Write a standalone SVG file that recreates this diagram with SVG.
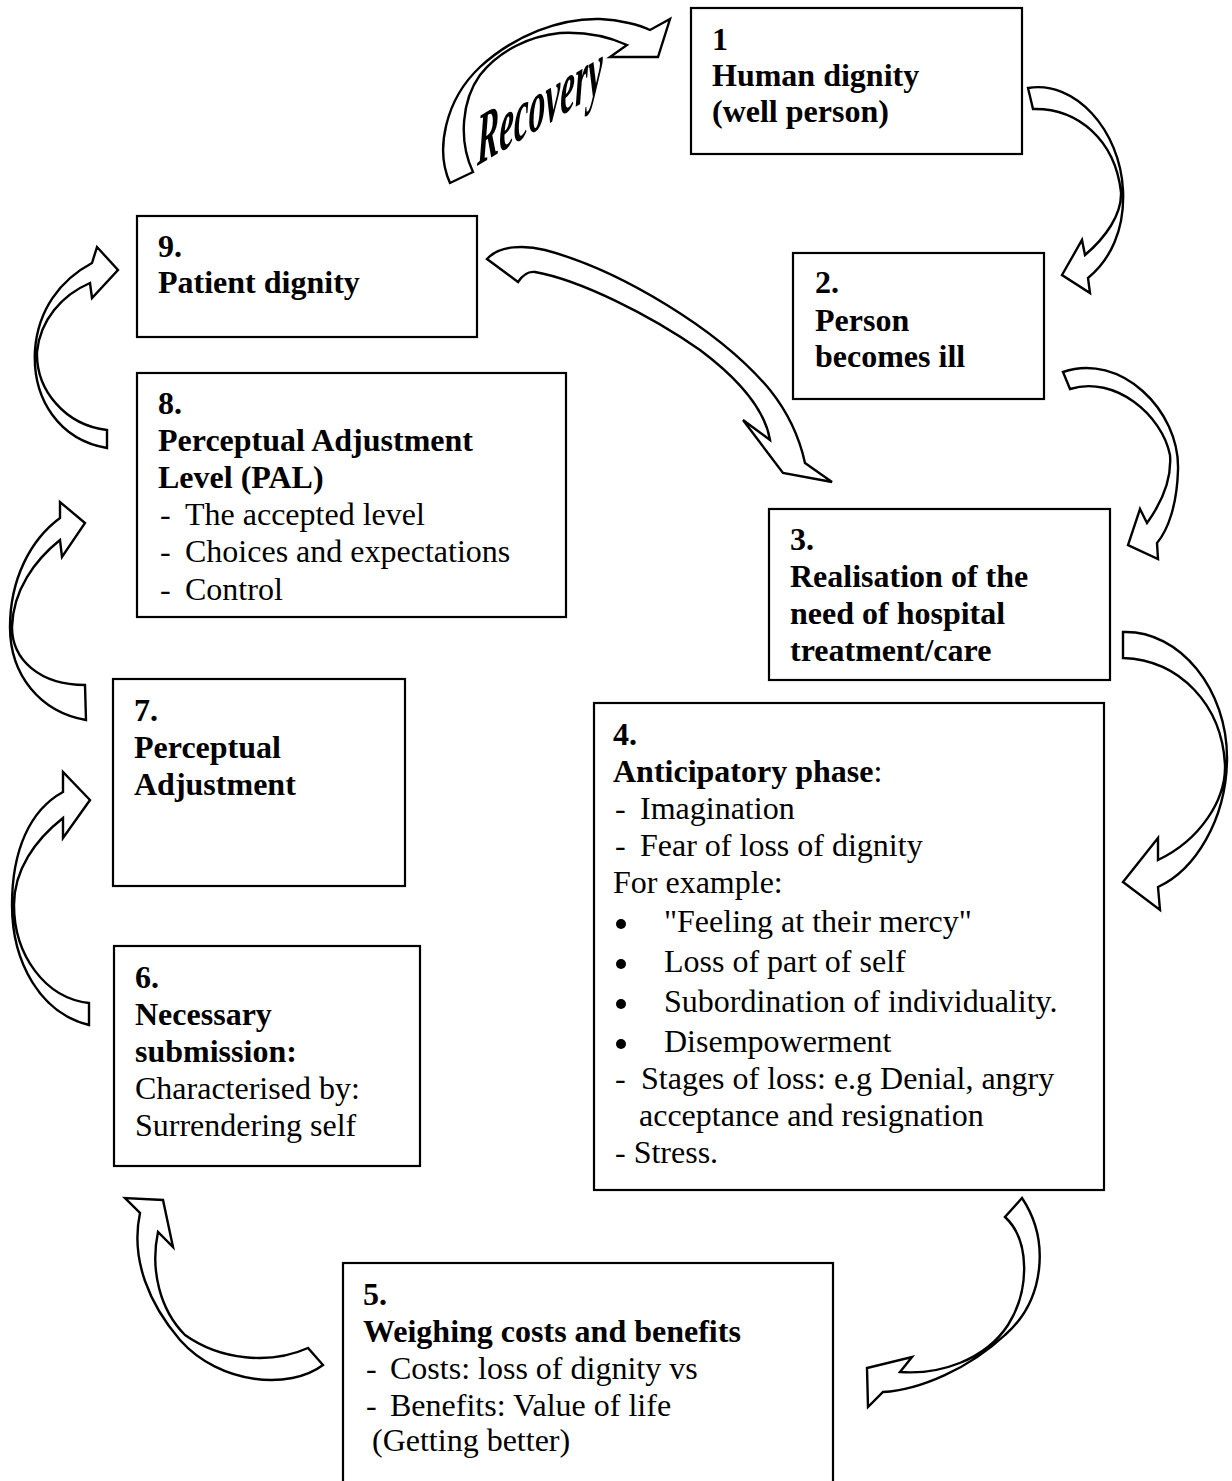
<svg xmlns="http://www.w3.org/2000/svg" width="1232" height="1481" viewBox="0 0 1232 1481">
<style>
.box{fill:#fff;stroke:#000;stroke-width:2.2}
.arr{fill:#fff;stroke:#000;stroke-width:2.4;stroke-linejoin:miter}
text{font-family:"Liberation Serif","Times New Roman",serif;font-size:32px;fill:#000}
.b{font-weight:bold}
.rec{font-family:"Liberation Serif","Times New Roman",serif;font-weight:bold;font-style:italic;font-size:74px}
</style>
<rect width="1232" height="1481" fill="#fff"/>
<g id="connectors">
<g id="recovery">
<path class="arr" d="M 450,183 C 435,150 445,100 480,67 C 515,35 560,18 600,19 C 620,20 640,25 650,30 L 670,19 L 658,57 L 610,57 L 627,45 C 605,35 580,32 560,33 C 530,36 500,50 480,75 C 462,100 458,140 473,172 Z"/>
<text class="rec" transform="translate(477,166) skewY(-31) scale(0.45,1)">Recovery</text>
</g>
<path id="a1-2" class="arr" d="M 1028,88 C 1075,80 1120,130 1123,190 C 1125,230 1110,260 1088,278 L 1090,293 L 1062,275 L 1082,240 L 1085,255 C 1105,238 1122,215 1121,192 C 1115,140 1078,108 1033,109 Z"/>
<path id="a2-3" class="arr" d="M 1063,372 C 1120,352 1180,410 1178,470 C 1177,505 1168,530 1157,543 L 1158,559 L 1128,545 L 1140,509 L 1147,523 C 1160,505 1172,480 1170,455 C 1162,415 1115,375 1070,389 Z"/>
<path id="a3-4" class="arr" d="M 1123,632 C 1180,630 1228,690 1227,760 C 1226,820 1195,870 1158,887 L 1160,910 L 1123,882 L 1158,838 L 1158,860 C 1200,840 1226,800 1225,765 C 1222,705 1180,660 1123,658 Z"/>
<path id="a4-5" class="arr" d="M 1022,1198 C 1050,1240 1045,1300 1005,1335 C 970,1368 920,1390 883,1392 L 868,1407 L 867,1368 L 912,1357 L 900,1372 C 940,1375 985,1360 1008,1325 C 1030,1290 1030,1240 1005,1217 Z"/>
<path id="a5-6" class="arr" d="M 323,1365 C 290,1390 220,1385 180,1340 C 150,1305 130,1260 140,1213 L 125,1198 L 163,1200 L 173,1247 L 158,1232 C 150,1270 160,1310 185,1335 C 220,1360 270,1365 308,1348 Z"/>
<path id="a6-7" class="arr" d="M 89,1025 C 40,1013 12,962 12,905 C 12,850 30,810 63,792 L 63,772 L 90,800 L 63,838 L 63,818 C 35,840 14,870 14,905 C 14,955 45,998 89,1003 Z"/>
<path id="a7-8" class="arr" d="M 86,720 C 40,712 10,675 10,627 C 10,580 30,540 60,518 L 60,502 L 85,523 L 62,557 L 60,540 C 35,560 13,590 12,627 C 12,660 40,685 85,685 Z"/>
<path id="a8-9" class="arr" d="M 107,448 C 60,440 32,400 35,350 C 38,310 60,280 92,263 L 97,247 L 118,270 L 92,298 L 90,283 C 62,295 40,320 37,352 C 36,390 65,425 107,430 Z"/>
<path id="a9-3" class="arr" d="M 487,259 C 500,245 525,245 545,250 C 620,270 720,330 770,390 C 790,415 800,440 805,463 L 832,482 L 783,473 L 743,420 L 770,440 C 765,410 740,380 700,350 C 650,315 580,280 535,272 C 528,271 522,276 518,282 Z"/>
</g>
<g id="n1">
<rect class="box" x="691" y="8" width="331" height="146"/>
<text class="b" x="712" y="50">1</text>
<text class="b" x="712" y="86">Human dignity</text>
<text class="b" x="712" y="122">(well person)</text>
</g>
<g id="n2">
<rect class="box" x="793" y="253" width="251" height="146"/>
<text class="b" x="815" y="293">2.</text>
<text class="b" x="815" y="331">Person</text>
<text class="b" x="815" y="367">becomes ill</text>
</g>
<g id="n3">
<rect class="box" x="769" y="509" width="341" height="171"/>
<text class="b" x="790" y="550">3.</text>
<text class="b" x="790" y="587">Realisation of the</text>
<text class="b" x="790" y="624">need of hospital</text>
<text class="b" x="790" y="661">treatment/care</text>
</g>
<g id="n4">
<rect class="box" x="594" y="703" width="510" height="487"/>
<text class="b" x="613" y="745">4.</text>
<text x="613" y="782"><tspan class="b">Anticipatory phase</tspan>:</text>
<text x="615" y="819">-</text><text x="640" y="819">Imagination</text>
<text x="615" y="856">-</text><text x="640" y="856">Fear of loss of dignity</text>
<text x="613" y="893">For example:</text>
<circle cx="621" cy="924" r="5"/><text x="664" y="932">"Feeling at their mercy"</text>
<circle cx="621" cy="964" r="5"/><text x="664" y="972">Loss of part of self</text>
<circle cx="621" cy="1004" r="5"/><text x="664" y="1012">Subordination of individuality.</text>
<circle cx="621" cy="1044" r="5"/><text x="664" y="1052">Disempowerment</text>
<text x="615" y="1089">-</text><text x="641" y="1089">Stages of loss: e.g Denial, angry</text>
<text x="639" y="1126">acceptance and resignation</text>
<text x="615" y="1163">- Stress.</text>
</g>
<g id="n5">
<rect class="box" x="343" y="1263" width="490" height="230"/>
<text class="b" x="363" y="1305">5.</text>
<text class="b" x="363" y="1342">Weighing costs and benefits</text>
<text x="366" y="1379">-</text><text x="390" y="1379">Costs: loss of dignity vs</text>
<text x="366" y="1416">-</text><text x="390" y="1416">Benefits: Value of life</text>
<text x="372" y="1451">(Getting better)</text>
</g>
<g id="n6">
<rect class="box" x="114" y="946" width="306" height="220"/>
<text class="b" x="135" y="988">6.</text>
<text class="b" x="135" y="1025">Necessary</text>
<text class="b" x="135" y="1062">submission:</text>
<text x="135" y="1099">Characterised by:</text>
<text x="135" y="1136">Surrendering self</text>
</g>
<g id="n7">
<rect class="box" x="113" y="679" width="292" height="207"/>
<text class="b" x="134" y="721">7.</text>
<text class="b" x="134" y="758">Perceptual</text>
<text class="b" x="134" y="795">Adjustment</text>
</g>
<g id="n8">
<rect class="box" x="137" y="373" width="429" height="244"/>
<text class="b" x="158" y="414">8.</text>
<text class="b" x="158" y="451">Perceptual Adjustment</text>
<text class="b" x="158" y="488">Level (PAL)</text>
<text x="160" y="525">-</text><text x="185" y="525">The accepted level</text>
<text x="160" y="562">-</text><text x="185" y="562">Choices and expectations</text>
<text x="160" y="600">-</text><text x="185" y="600">Control</text>
</g>
<g id="n9">
<rect class="box" x="137" y="216" width="340" height="121"/>
<text class="b" x="158" y="257">9.</text>
<text class="b" x="158" y="293">Patient dignity</text>
</g>
</svg>
